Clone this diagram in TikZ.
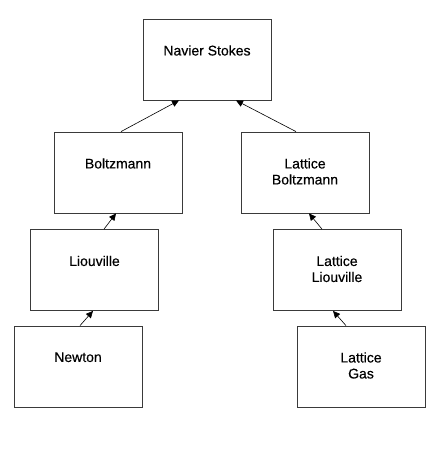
\documentclass[tikz,border=0pt]{standalone}
\usepackage{fontspec}
\setmainfont{Liberation Sans}[FakeBold=0.4]
\usetikzlibrary{arrows.meta,positioning}
\definecolor{edge}{HTML}{3A3A3A}
\tikzset{
  box/.style={draw=edge, line width=0.8pt, rectangle, minimum width=128pt, minimum height=81pt, inner sep=0pt},
  boxtext/.style={anchor=north, yshift=-26.5pt, inner sep=0pt, align=center, font=\fontsize{14}{16}\selectfont\addfontfeature{FakeBold=0.4}},
  link/.style={draw=black, line width=0.6pt, -{Triangle[length=7pt,width=6.5pt]}},
}
\begin{document}
\begin{tikzpicture}[x=1pt, y=-1pt]
\useasboundingbox (0,0) rectangle (442,468);
% top
\node[box, label={[boxtext]north:Navier Stokes}] (ns) at (207,59.5) {};
% left column
\node[box, label={[boxtext]north:Boltzmann}] (bz) at (118,172.5) {};
\node[box, label={[boxtext]north:Liouville}] (lv) at (94.5,270) {};
\node[box, label={[boxtext]north:Newton}] (nw) at (78,366.5) {};
% right column
\node[box, label={[boxtext]north:Lattice\\Boltzmann}] (lbz) at (305,172.5) {};
\node[box, label={[boxtext]north:Lattice\\Liouville}] (llv) at (337,270) {};
\node[box, label={[boxtext]north:Lattice\\Gas}] (lg) at (361,366.5) {};
% arrows
\draw[link] ([xshift=3pt]bz.north) -- ([xshift=-28pt]ns.south);
\draw[link] ([xshift=-9pt]lbz.north) -- ([xshift=29pt]ns.south);
\draw[link] ([xshift=9.5pt]lv.north) -- ([xshift=-2pt]bz.south);
\draw[link] ([xshift=-15pt]llv.north) -- ([xshift=4pt]lbz.south);
\draw[link] ([xshift=2pt]nw.north) -- ([xshift=-1.5pt]lv.south);
\draw[link] ([xshift=-15pt]lg.north) -- ([xshift=-4pt]llv.south);
\end{tikzpicture}
\end{document}
